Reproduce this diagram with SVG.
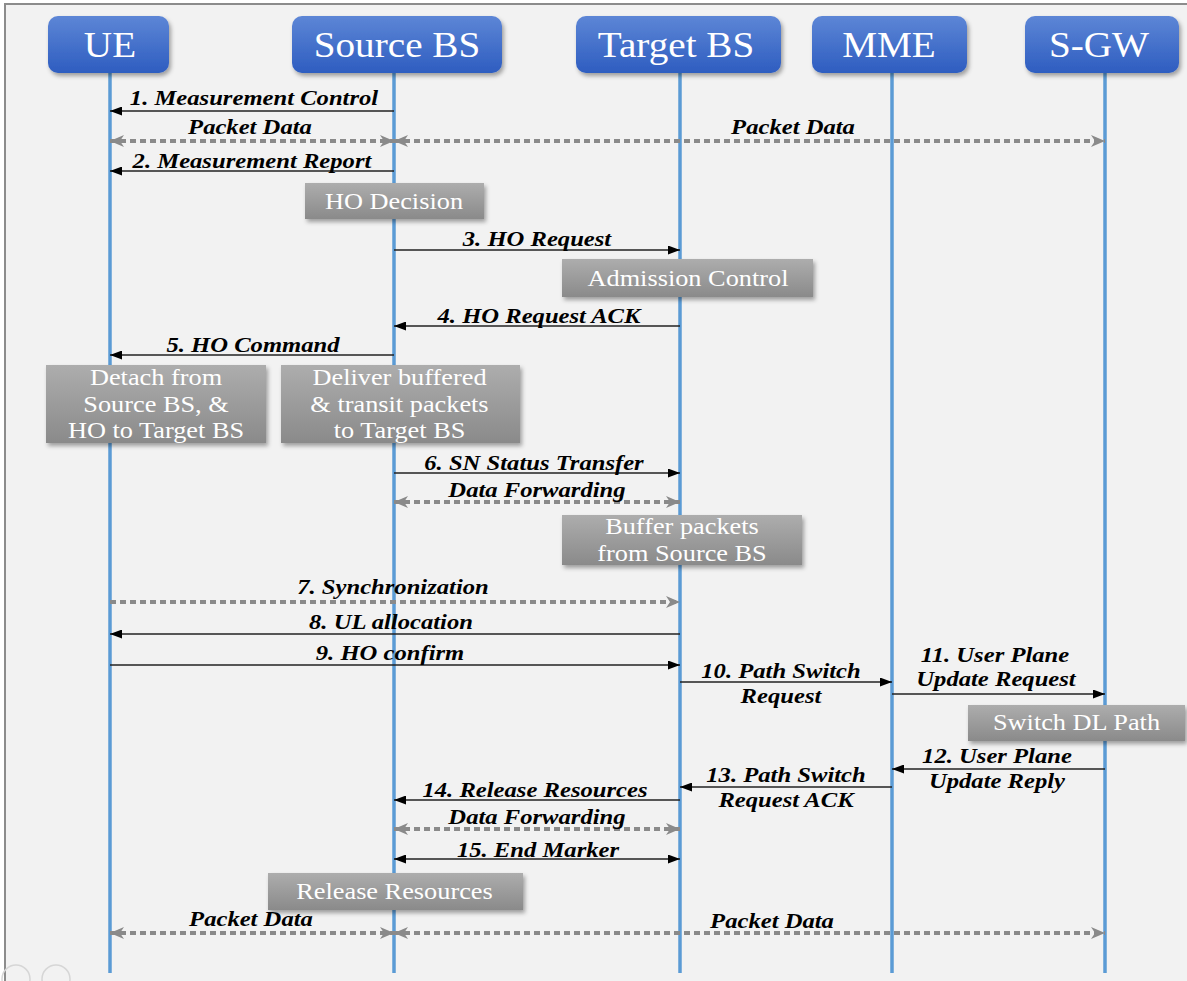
<svg xmlns="http://www.w3.org/2000/svg" width="1187" height="981" viewBox="0 0 1187 981">
<defs>
<linearGradient id="gBlue" x1="0" y1="0" x2="0" y2="1"><stop offset="0" stop-color="#5d86d6"/><stop offset="1" stop-color="#2e5dc0"/></linearGradient>
<linearGradient id="gGray" x1="0" y1="0" x2="0" y2="1"><stop offset="0" stop-color="#adadad"/><stop offset="1" stop-color="#8a8a8a"/></linearGradient>
<filter id="sh" x="-10%" y="-20%" width="130%" height="160%"><feDropShadow dx="2" dy="3" stdDeviation="2" flood-color="#000" flood-opacity="0.35"/></filter>
<marker id="aB" viewBox="0 0 12 9" markerWidth="12" markerHeight="9" refX="12" refY="4.5" orient="auto-start-reverse" markerUnits="userSpaceOnUse"><path d="M0,0 L12,4.5 L0,9 z" fill="#000"/></marker>
<marker id="aG" viewBox="0 0 14 12" markerWidth="14" markerHeight="12" refX="14" refY="6" orient="auto-start-reverse" markerUnits="userSpaceOnUse"><path d="M0,0 L14,6 L0,12 L4,6 z" fill="#8a8a8a"/></marker>
<style>
text{font-family:"Liberation Serif","Times New Roman",serif;text-anchor:middle}
.hdr{fill:url(#gBlue);filter:url(#sh)}
.hdrt{font-size:35px;fill:#fff}
.box{fill:url(#gGray);filter:url(#sh)}
.boxt{font-size:23.5px;fill:#fff}
.life{stroke:#5b9bd5;stroke-width:3.5}
.msg{stroke:#222;stroke-width:1.3;fill:none;marker-end:url(#aB)}
.dbl{marker-start:url(#aB)}
.dash{stroke:#8a8a8a;stroke-width:4;stroke-dasharray:6 4;fill:none;marker-end:url(#aG)}
.dashd{marker-start:url(#aG)}
.lbl{font-size:22px;font-weight:bold;font-style:italic;fill:#000}
</style>
</defs>
<rect x="0" y="0" width="1187" height="981" fill="#ffffff"/>
<rect x="5" y="4" width="1200" height="1000" fill="#f2f2f2" stroke="#8c8c8c" stroke-width="2"/>
<g id="viewer-icons" fill="none" stroke="#d6d6d6" stroke-width="1.5">
<circle cx="16" cy="979" r="14"/>
<circle cx="56" cy="979" r="14"/>
</g>
<g id="lifelines">
<line class="life" x1="110" y1="72" x2="110" y2="973"/>
<line class="life" x1="394" y1="72" x2="394" y2="973"/>
<line class="life" x1="680" y1="72" x2="680" y2="973"/>
<line class="life" x1="892" y1="72" x2="892" y2="973"/>
<line class="life" x1="1105" y1="72" x2="1105" y2="973"/>
</g>
<g id="node-ue"><rect class="hdr" x="48" y="16" width="121" height="57" rx="10"/><text class="hdrt" transform="scale(1.12 1)" x="98.21" y="57">UE</text></g>
<g id="node-source-bs"><rect class="hdr" x="292" y="16" width="210" height="57" rx="10"/><text class="hdrt" transform="scale(1.12 1)" x="354.46" y="57">Source BS</text></g>
<g id="node-target-bs"><rect class="hdr" x="576" y="16" width="205" height="57" rx="10"/><text class="hdrt" transform="scale(1.12 1)" x="603.57" y="57">Target BS</text></g>
<g id="node-mme"><rect class="hdr" x="812" y="16" width="155" height="57" rx="10"/><text class="hdrt" transform="scale(1.12 1)" x="793.75" y="57">MME</text></g>
<g id="node-sgw"><rect class="hdr" x="1025" y="16" width="154" height="57" rx="10"/><text class="hdrt" transform="scale(1.12 1)" x="981.25" y="57">S-GW</text></g>
<g id="connectors">
<line class="msg" x1="394" y1="111" x2="110" y2="111"/>
<line class="dash dashd" x1="110" y1="141" x2="394" y2="141"/>
<line class="dash dashd" x1="394" y1="141" x2="1105" y2="141"/>
<line class="msg" x1="394" y1="171" x2="110" y2="171"/>
<line class="msg" x1="394" y1="250" x2="680" y2="250"/>
<line class="msg" x1="680" y1="326" x2="394" y2="326"/>
<line class="msg" x1="394" y1="355" x2="110" y2="355"/>
<line class="msg" x1="394" y1="473" x2="680" y2="473"/>
<line class="dash dashd" x1="394" y1="502" x2="680" y2="502"/>
<line class="dash" x1="110" y1="602" x2="680" y2="602"/>
<line class="msg" x1="680" y1="634" x2="110" y2="634"/>
<line class="msg" x1="110" y1="665" x2="680" y2="665"/>
<line class="msg" x1="680" y1="682" x2="892" y2="682"/>
<line class="msg" x1="892" y1="694" x2="1105" y2="694"/>
<line class="msg" x1="1105" y1="769" x2="892" y2="769"/>
<line class="msg" x1="892" y1="787" x2="680" y2="787"/>
<line class="msg" x1="680" y1="800" x2="394" y2="800"/>
<line class="dash dashd" x1="394" y1="829" x2="680" y2="829"/>
<line class="msg dbl" x1="394" y1="859" x2="680" y2="859"/>
<line class="dash dashd" x1="110" y1="933" x2="394" y2="933"/>
<line class="dash dashd" x1="394" y1="933" x2="1105" y2="933"/>
</g>
<g id="labels">
<text class="lbl" transform="scale(1.12 1)" x="226.79" y="105">1. Measurement Control</text>
<text class="lbl" transform="scale(1.12 1)" x="223.21" y="134">Packet Data</text>
<text class="lbl" transform="scale(1.12 1)" x="708.04" y="134">Packet Data</text>
<text class="lbl" transform="scale(1.12 1)" x="225.0" y="168">2. Measurement Report</text>
<text class="lbl" transform="scale(1.12 1)" x="479.46" y="246">3. HO Request</text>
<text class="lbl" transform="scale(1.12 1)" x="481.25" y="323">4. HO Request ACK</text>
<text class="lbl" transform="scale(1.12 1)" x="225.89" y="352">5. HO Command</text>
<text class="lbl" transform="scale(1.12 1)" x="476.79" y="470">6. SN Status Transfer</text>
<text class="lbl" transform="scale(1.12 1)" x="479.46" y="497">Data Forwarding</text>
<text class="lbl" transform="scale(1.12 1)" x="350.89" y="594">7. Synchronization</text>
<text class="lbl" transform="scale(1.12 1)" x="349.11" y="629">8. UL allocation</text>
<text class="lbl" transform="scale(1.12 1)" x="348.21" y="660">9. HO confirm</text>
<text class="lbl" transform="scale(1.12 1)" x="697.32" y="678">10. Path Switch</text>
<text class="lbl" transform="scale(1.12 1)" x="697.32" y="703">Request</text>
<text class="lbl" transform="scale(1.12 1)" x="888.39" y="662">11. User Plane</text>
<text class="lbl" transform="scale(1.12 1)" x="889.29" y="686">Update Request</text>
<text class="lbl" transform="scale(1.12 1)" x="890.18" y="763">12. User Plane</text>
<text class="lbl" transform="scale(1.12 1)" x="890.18" y="788">Update Reply</text>
<text class="lbl" transform="scale(1.12 1)" x="701.79" y="782">13. Path Switch</text>
<text class="lbl" transform="scale(1.12 1)" x="701.79" y="807">Request ACK</text>
<text class="lbl" transform="scale(1.12 1)" x="477.68" y="797">14. Release Resources</text>
<text class="lbl" transform="scale(1.12 1)" x="479.46" y="824">Data Forwarding</text>
<text class="lbl" transform="scale(1.12 1)" x="480.36" y="857">15. End Marker</text>
<text class="lbl" transform="scale(1.12 1)" x="224.11" y="926">Packet Data</text>
<text class="lbl" transform="scale(1.12 1)" x="689.29" y="928">Packet Data</text>
</g>
<g id="node-ho-decision"><rect class="box" x="305" y="183" width="179" height="36"/><text class="boxt" transform="scale(1.12 1)" x="351.79" y="209">HO Decision</text></g>
<g id="node-admission-control"><rect class="box" x="562" y="259" width="251" height="38"/><text class="boxt" transform="scale(1.12 1)" x="614.29" y="286">Admission Control</text></g>
<g id="node-detach"><rect class="box" x="46" y="365" width="220" height="78"/><text class="boxt" transform="scale(1.12 1)" x="139.29" y="385">Detach from</text><text class="boxt" transform="scale(1.12 1)" x="139.29" y="412">Source BS, &amp;</text><text class="boxt" transform="scale(1.12 1)" x="139.29" y="438">HO to Target BS</text></g>
<g id="node-deliver"><rect class="box" x="281" y="365" width="239" height="78"/><text class="boxt" transform="scale(1.12 1)" x="356.7" y="385">Deliver buffered</text><text class="boxt" transform="scale(1.12 1)" x="356.7" y="412">&amp; transit packets</text><text class="boxt" transform="scale(1.12 1)" x="356.7" y="438">to Target BS</text></g>
<g id="node-buffer"><rect class="box" x="562" y="515" width="240" height="50"/><text class="boxt" transform="scale(1.12 1)" x="608.93" y="534">Buffer packets</text><text class="boxt" transform="scale(1.12 1)" x="608.93" y="561">from Source BS</text></g>
<g id="node-switch-dl"><rect class="box" x="968" y="705" width="217" height="36"/><text class="boxt" transform="scale(1.12 1)" x="961.16" y="730">Switch DL Path</text></g>
<g id="node-release"><rect class="box" x="268" y="873" width="255" height="37"/><text class="boxt" transform="scale(1.12 1)" x="352.23" y="899">Release Resources</text></g>
</svg>
